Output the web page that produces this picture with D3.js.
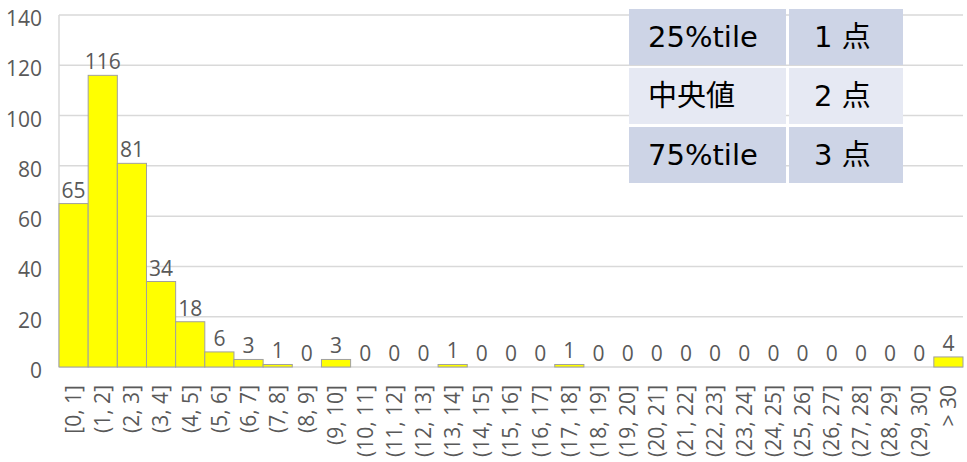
<!DOCTYPE html>
<html>
<head>
<meta charset="utf-8">
<title>Histogram</title>
<script src="https://cdn.jsdelivr.net/npm/d3@7"></script>
<style>
  body { margin: 0; background: #fff; }
  svg text { font-family: "Open Sans", "Noto Sans", sans-serif; }
</style>
</head>
<body>
<div id="chart"></div>
<script>
var categories = ["[0, 1]"];
for (var i = 1; i < 30; i++) categories.push("(" + i + ", " + (i + 1) + "]");
categories.push("> 30");

var counts = [65, 116, 81, 34, 18, 6, 3, 1, 0, 3, 0, 0, 0, 1, 0, 0, 0, 1, 0, 0, 0, 0, 0, 0, 0, 0, 0, 0, 0, 0, 4];

var yTicks = [0, 20, 40, 60, 80, 100, 120, 140];

var tableLabels = ["25%tile", "中央値", "75%tile"];
var tableValues = ["1 点", "2 点", "3 点"];

var W = 967, H = 462;
var plotLeft = 59, plotRight = 963, plotTop = 15, plotBottom = 367;

var svg = d3.select("#chart").append("svg")
  .attr("width", W).attr("height", H);

var x = d3.scaleBand().domain(categories).range([plotLeft, plotRight]).padding(0);
var y = d3.scaleLinear().domain([0, 140]).range([plotBottom, plotTop]);

var bins = counts.map(function(d, i) { return { c: categories[i], v: d }; });

// gridlines
svg.append("g")
  .selectAll("line")
  .data(yTicks)
  .enter().append("line")
  .attr("x1", plotLeft).attr("x2", plotRight)
  .attr("y1", function(d) { return y(d); })
  .attr("y2", function(d) { return y(d); })
  .attr("stroke", "#d9d9d9").attr("stroke-width", 1.5);

// left axis line
svg.append("line")
  .attr("x1", plotLeft).attr("x2", plotLeft)
  .attr("y1", y(140)).attr("y2", y(0))
  .attr("stroke", "#d9d9d9").attr("stroke-width", 1.5);

// y axis labels
var yAxis = d3.axisLeft(y).tickValues(yTicks).tickSize(0).tickPadding(17);
var gy = svg.append("g").attr("transform", "translate(" + plotLeft + ",0)").call(yAxis);
gy.select(".domain").remove();
gy.selectAll("text")
  .attr("fill", "#595959")
  .attr("font-size", "21px")
  .attr("dy", "0.5em")
  .style("font-family", "'Open Sans', sans-serif");

// bars
svg.append("g")
  .selectAll("rect")
  .data(bins.filter(function(d) { return d.v > 0; }))
  .enter().append("rect")
  .attr("x", function(d) { return x(d.c); })
  .attr("y", function(d) { return y(d.v); })
  .attr("width", x.bandwidth())
  .attr("height", function(d) { return y(0) - y(d.v); })
  .attr("fill", "#ffff00")
  .attr("stroke", "#a0a0a0")
  .attr("stroke-width", 1);

// data labels
svg.append("g")
  .selectAll("text")
  .data(bins)
  .enter().append("text")
  .attr("x", function(d) { return x(d.c) + x.bandwidth() / 2; })
  .attr("y", function(d) { return y(d.v) - 6; })
  .attr("text-anchor", "middle")
  .attr("fill", "#595959")
  .attr("font-size", "21px")
  .text(function(d) { return d.v; });

// x axis labels
var xAxis = d3.axisBottom(x).tickSize(0).tickPadding(0);
var gx = svg.append("g").attr("transform", "translate(0," + plotBottom + ")").call(xAxis);
gx.select(".domain").remove();
gx.selectAll("text")
  .attr("transform", "rotate(-90)")
  .attr("text-anchor", "end")
  .attr("x", -18)
  .attr("y", 0)
  .attr("dy", "0.35em")
  .attr("fill", "#595959")
  .attr("font-size", "21px")
  .style("font-family", "'Open Sans', sans-serif");

// summary table
var tx = 629, ty = 9, colW = [157, 117], rowH = 56, gap = 3;
var rowFill = ["#cdd4e6", "#e6e9f3", "#cdd4e6"];
var tbl = svg.append("g");
tableLabels.forEach(function(lab, r) {
  var ry = ty + r * (rowH + gap);
  tbl.append("rect").attr("x", tx).attr("y", ry).attr("width", colW[0]).attr("height", rowH).attr("fill", rowFill[r]);
  tbl.append("rect").attr("x", tx + colW[0] + gap).attr("y", ry).attr("width", colW[1] - gap).attr("height", rowH).attr("fill", rowFill[r]);
  tbl.append("text").attr("x", tx + 19).attr("y", ry + rowH / 2).attr("dy", "0.36em")
    .attr("font-size", "29px").attr("fill", "#000")
    .style("font-family", "'DejaVu Sans', 'Noto Sans CJK JP', sans-serif")
    .text(lab);
  tbl.append("text").attr("x", tx + 185).attr("y", ry + rowH / 2).attr("dy", "0.36em")
    .attr("font-size", "29px").attr("fill", "#000")
    .style("font-family", "'DejaVu Sans', 'Noto Sans CJK JP', sans-serif")
    .text(tableValues[r]);
});
</script>
</body>
</html>
